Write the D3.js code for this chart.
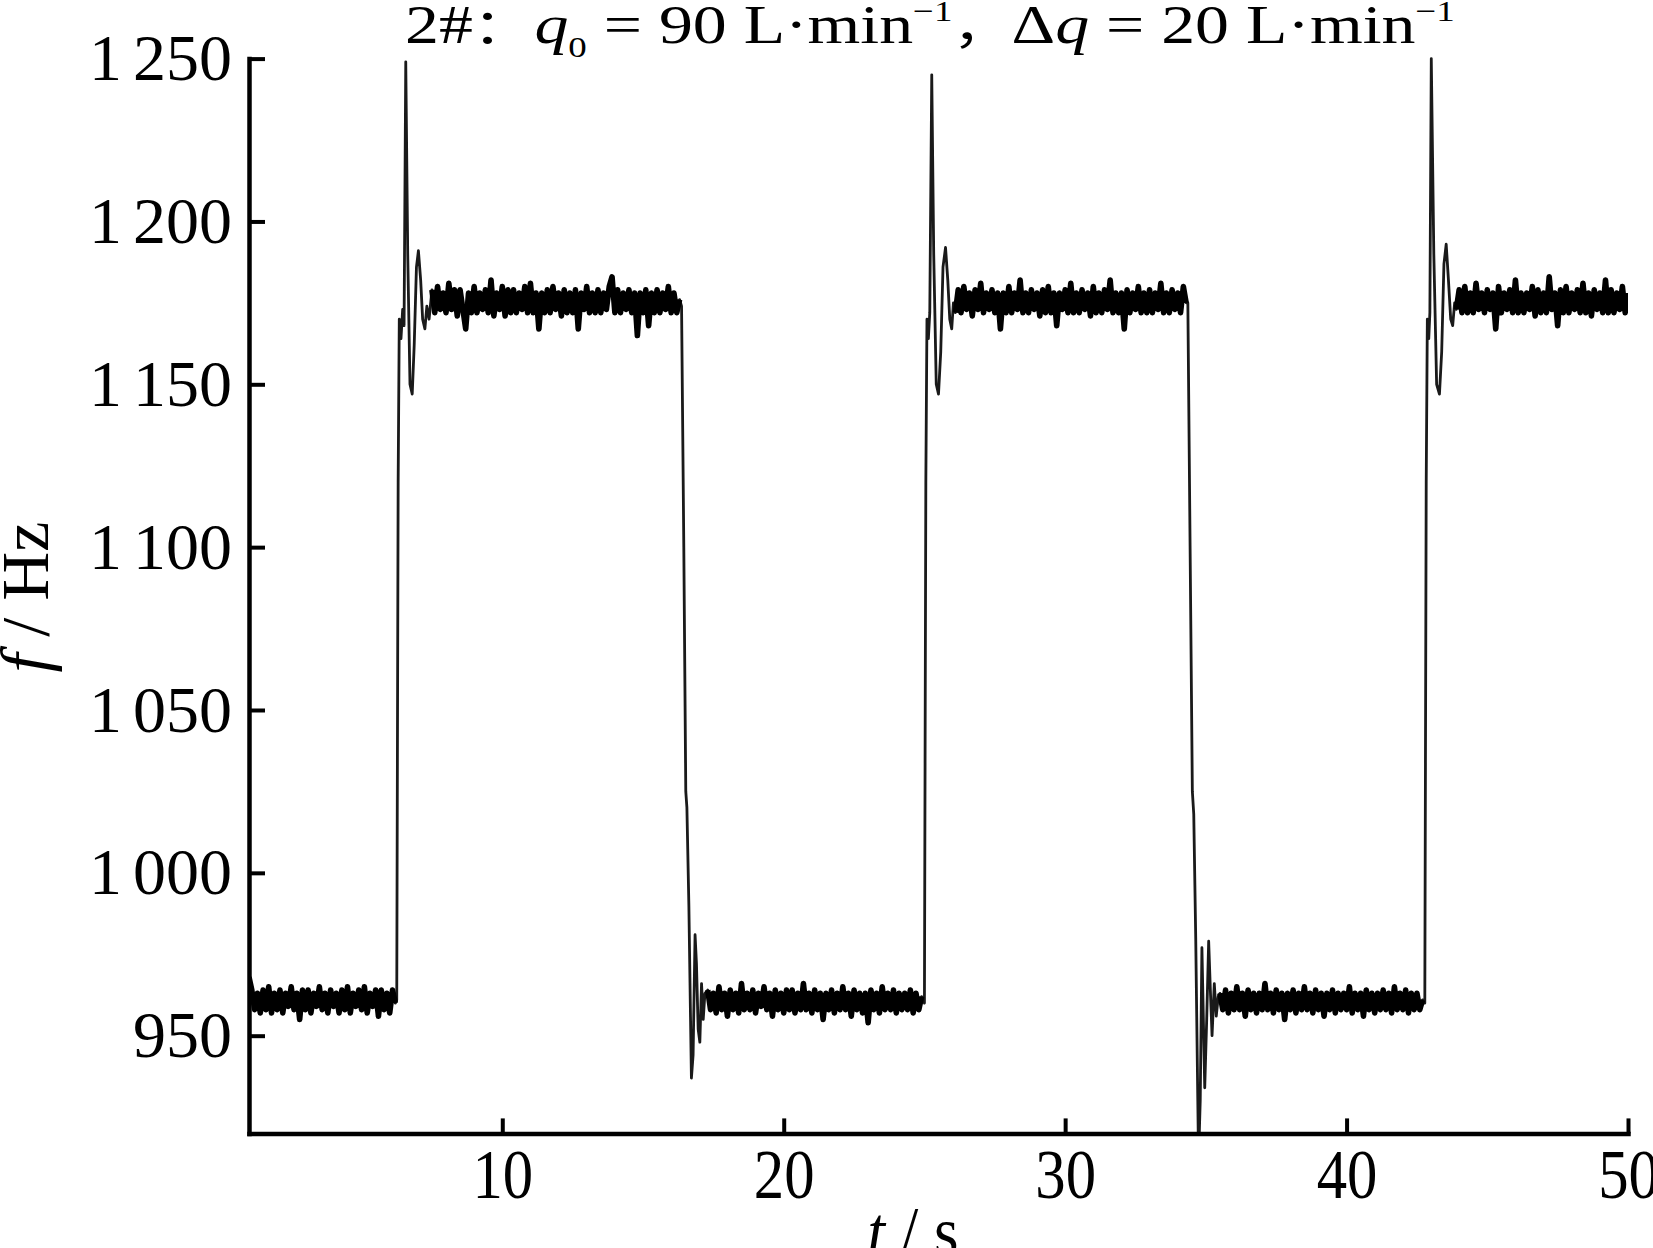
<!DOCTYPE html>
<html><head><meta charset="utf-8">
<script src="https://cdn.jsdelivr.net/npm/d3@7"></script>
<style>
html,body{margin:0;padding:0;background:#fff;}
svg{display:block;}
text{font-family:"Liberation Serif","Times New Roman",serif;fill:#000;}
</style></head><body>
<svg id="chart" width="1653" height="1248"></svg>
<script>
// ---------------- data ----------------
const xDomain = [1, 50];
const yDomain = [920, 1250];
const xTicks = [10, 20, 30, 40, 50];
const yTicks = [950, 1000, 1050, 1100, 1150, 1200, 1250];
const sampleStep = 0.1; // s, plateau sampling

// plateau segments: start time + sampled values (Hz)
const low1Start = 1.0;
const low1 = [968,964,958,963,957,964,958,965,957,963, 958,964,957,963,959,965,958,963,955,964,
  958,964,957,963,959,965,958,963,957,964, 959,963,957,964,958,965,957,963,959,964,
  958,965,957,963,959,964,956,964,958,963, 957,964,960];
const high1Start = 7.5;
const high1 = [1179,1172,1180,1173,1178,1172,1181,1173,1179,1171, 1179,1173,1167,1178,1172,1180,1172,1178,1173,1179,
  1172,1182,1171,1178,1173,1180,1171,1179,1172,1179, 1172,1178,1173,1180,1172,1181,1172,1178,1167,1178,
  1172,1179,1172,1180,1173,1178,1171,1179,1172,1178, 1172,1179,1167,1178,1173,1180,1172,1178,1172,1179,
  1172,1178,1173,1180,1183,1172,1179,1172,1178,1173, 1179,1172,1178,1165,1178,1172,1179,1168,1178,1172,
  1179,1172,1178,1173,1180,1172,1178,1172,1176];
const low2Start = 17.3;
const low2 = [964,958,963,957,965,958,963,956,964,958, 963,957,966,958,963,958,964,957,963,959,
  965,958,963,956,964,958,963,957,964,958, 964,957,963,958,966,958,963,957,964,958,
  963,955,963,958,964,957,963,958,965,958, 963,956,964,958,963,957,963,954,964,958,
  963,957,965,958,963,958,964,957,963,958, 963,958,964,957,963,958,962];
const high2Start = 26.1;
const high2 = [1172,1179,1172,1180,1173,1178,1171,1179,1173,1181, 1172,1178,1173,1179,1172,1178,1167,1178,1172,1180,
  1172,1178,1173,1182,1172,1178,1172,1179,1173,1178, 1171,1179,1172,1180,1172,1178,1168,1178,1173,1179,
  1172,1181,1172,1178,1172,1179,1173,1178,1171,1180, 1172,1178,1172,1179,1173,1182,1172,1178,1172,1178,
  1167,1179,1172,1178,1173,1180,1172,1178,1172,1179, 1172,1178,1173,1181,1172,1178,1172,1179,1173,1178,
  1172,1180,1175];
const low3Start = 35.5;
const low3 = [963,958,964,957,963,958,965,958,963,956, 964,958,963,957,963,958,966,958,963,957,
  964,958,963,955,963,958,964,957,963,958, 965,958,963,957,964,958,963,956,963,958,
  964,957,963,958,963,958,965,957,963,958, 963,956,964,958,963,957,963,958,964,958,
  963,957,965,958,963,958,964,957,963,958, 963,958,961];
const high3Start = 43.9;
const high3 = [1173,1179,1172,1180,1172,1178,1172,1181,1173,1178, 1172,1179,1173,1178,1167,1180,1172,1178,1173,1179,
  1172,1182,1172,1178,1172,1178,1173,1180,1171,1179, 1172,1178,1172,1183,1173,1178,1168,1179,1172,1180,
  1172,1178,1173,1179,1172,1181,1172,1178,1171,1179, 1173,1178,1172,1182,1172,1179,1172,1178,1173,1180,
  1172,1178];

// transients: [time s, frequency Hz]
const rise1 = [[6.25,961],[6.3,1120],[6.34,1170],[6.4,1164],[6.46,1173],[6.51,1168],[6.57,1249],[6.64,1190],
  [6.72,1150],[6.8,1147],[6.87,1162],[6.95,1186],[7.02,1191],[7.1,1182],[7.17,1170],[7.25,1167],[7.32,1174],[7.4,1170]];
const fall1 = [[16.37,1174],[16.45,1100],[16.52,1025],[16.56,1020],[16.63,990],[16.72,937],[16.78,944],[16.85,981],
  [16.9,972],[16.96,952],[17.02,948],[17.08,966],[17.14,955],[17.2,963]];
const rise2 = [[25.0,960],[25.05,1120],[25.09,1170],[25.14,1164],[25.19,1172],[25.26,1245],[25.33,1190],[25.42,1150],
  [25.5,1147],[25.58,1160],[25.66,1186],[25.75,1192],[25.83,1182],[25.9,1170],[25.97,1167],[26.03,1175]];
const fall2 = [[34.36,1175],[34.44,1100],[34.52,1025],[34.57,1018],[34.64,980],[34.74,912],[34.8,930],[34.86,977],
  [34.9,960],[34.96,934],[35.03,955],[35.1,979],[35.16,964],[35.22,950],[35.3,966],[35.37,956],[35.44,962]];
const rise3 = [[42.78,960],[42.83,1120],[42.87,1170],[42.92,1164],[42.96,1172],[43.01,1250],[43.1,1190],[43.2,1150],
  [43.3,1147],[43.38,1160],[43.46,1187],[43.54,1193],[43.62,1182],[43.7,1170],[43.77,1168],[43.84,1175]];

// ---------------- build series ----------------
const plateau = (start, vals) => vals.map((v, i) => [start + i * sampleStep, v]);
const plateaus = [
  plateau(low1Start, low1), plateau(high1Start, high1), plateau(low2Start, low2),
  plateau(high2Start, high2), plateau(low3Start, low3), plateau(high3Start, high3)
];
const series = [].concat(
  plateaus[0], rise1, plateaus[1], fall1, plateaus[2], rise2,
  plateaus[3], fall2, plateaus[4], rise3, plateaus[5]
);

// ---------------- layout ----------------
const svg = d3.select("#chart");
const plot = {left: 249, right: 1628, top: 58.6, bottom: 1133.4};
const x = d3.scaleLinear().domain(xDomain).range([plot.left, plot.right]);
const y = d3.scaleLinear().domain(yDomain).range([plot.bottom, plot.top]);

svg.append("defs").append("clipPath").attr("id", "clip")
  .append("rect").attr("x", plot.left).attr("y", plot.top - 10)
  .attr("width", plot.right - plot.left).attr("height", plot.bottom - plot.top + 10);

const line = d3.line().x(d => x(d[0])).y(d => y(d[1]));
const dataG = svg.append("g").attr("clip-path", "url(#clip)");
// whole trace (fast jumps render thin)
dataG.append("path").datum(series)
  .attr("fill", "none").attr("stroke", "#1a1a1a").attr("stroke-width", 2.8)
  .attr("stroke-linejoin", "round").attr("d", line);
// dense noisy plateaus render as a heavy band
dataG.selectAll("path.plateau").data(plateaus).join("path").attr("class", "plateau")
  .attr("fill", "none").attr("stroke", "#000").attr("stroke-width", 5.6)
  .attr("stroke-linejoin", "round").attr("d", line);

// axes
const loc = d3.formatLocale({decimal: ".", thousands: "\u2006", grouping: [3], currency: ["", ""]});
const fmt = loc.format(",");

const yAxis = svg.append("g").attr("transform", `translate(${plot.left},0)`)
  .call(d3.axisLeft(y).tickValues(yTicks).tickFormat(fmt).tickSizeInner(-16).tickSizeOuter(0).tickPadding(17));
const xAxis = svg.append("g").attr("transform", `translate(0,${plot.bottom})`)
  .call(d3.axisBottom(x).tickValues(xTicks).tickFormat(d3.format("d")).tickSizeInner(-15).tickSizeOuter(0).tickPadding(16));

[yAxis, xAxis].forEach(g => {
  g.select(".domain").attr("stroke-width", 4.5).attr("stroke-linecap", "square");
  g.selectAll(".tick line").attr("stroke-width", 4);
  g.selectAll("text").attr("font-family", "'Liberation Serif','Times New Roman',serif").attr("fill", "#000");
});
yAxis.selectAll("text").attr("font-size", 66);
xAxis.selectAll("text").attr("font-size", 69).attr("transform", "scale(0.88,1)");

// axis labels
const yl = svg.append("text").attr("transform", "translate(48,597) rotate(-90)")
  .attr("text-anchor", "middle").attr("font-size", 68);
yl.append("tspan").attr("font-style", "italic").text("f");
yl.append("tspan").text(" / Hz");

const xl = svg.append("text").attr("transform", "translate(913,1255) scale(0.9,1)")
  .attr("text-anchor", "middle").attr("font-size", 70);
xl.append("tspan").attr("font-style", "italic").text("t");
xl.append("tspan").text(" / s");

// title
const cjk = "'Noto Sans CJK SC','Liberation Serif',serif";
const tg = svg.append("g");
const title = tg.append("text").attr("font-size", 55);
title.append("tspan").text("2#");
title.append("tspan").attr("font-family", cjk).attr("font-size", 48).text("：");
title.append("tspan").attr("font-style", "italic").attr("dx", 2).text("q");
title.append("tspan").attr("font-size", 30).attr("dy", 14).text("0");
title.append("tspan").attr("dy", -14).text(" = 90 L·min");
title.append("tspan").attr("font-size", 30).attr("dy", -22).text("−1");
title.append("tspan").attr("dy", 22).attr("font-family", cjk).attr("font-size", 48).text("，");
title.append("tspan").text("Δ");
title.append("tspan").attr("font-style", "italic").text("q");
title.append("tspan").text(" = 20 L·min");
title.append("tspan").attr("font-size", 30).attr("dy", -22).text("−1");
const bb = title.node().getBBox();
const titleLeft = 405, titleRight = 1455, titleBase = 43;
const sx = (titleRight - titleLeft) / bb.width;
tg.attr("transform", `translate(${titleLeft - bb.x * sx},${titleBase}) scale(${sx},1)`);
</script>
</body></html>
